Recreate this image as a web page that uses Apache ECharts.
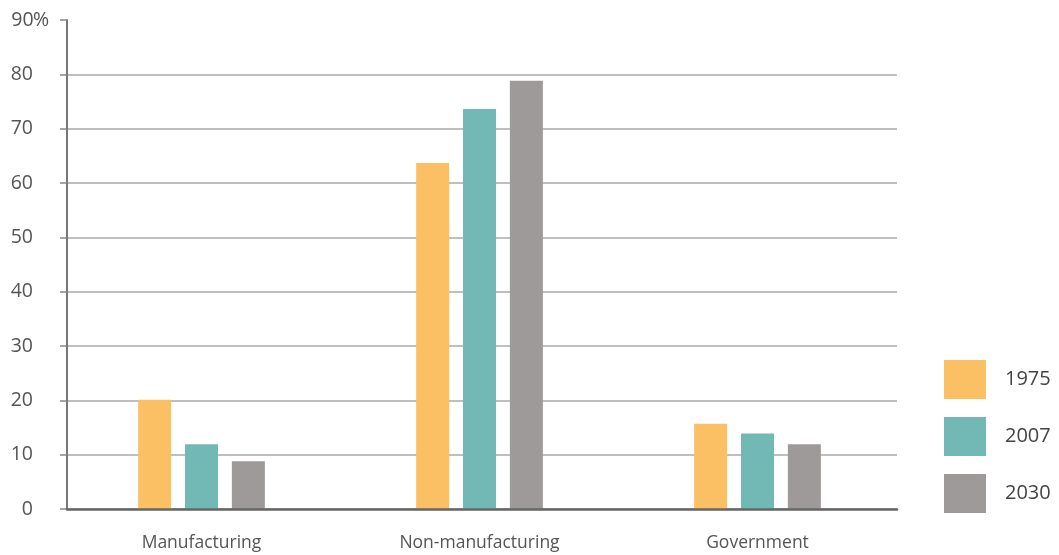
<!DOCTYPE html>
<html>
<head>
<meta charset="utf-8">
<script src="https://cdn.jsdelivr.net/npm/echarts@6/dist/echarts.min.js"></script>
<style>html,body{margin:0;padding:0;background:#fff;}#c{width:1059px;height:555px;}</style>
</head>
<body>
<div id="c"></div>
<script>
const categories = ['Manufacturing', 'Non-manufacturing', 'Government'];
const seriesNames = ['1975', '2007', '2030'];
const values1975 = [20.1, 63.7, 15.7];
const values2007 = [11.9, 73.6, 13.9];
const values2030 = [8.8, 78.8, 11.9];
const yTicks = { min: 0, max: 90, interval: 10 };
const colors = ['#FCC064', '#72B8B5', '#9E9A9A'];

const chart = echarts.init(document.getElementById('c'));
const data = [values1975, values2007, values2030];
const font = 'Open Sans, Noto Sans, sans-serif';
chart.setOption({
  animation: false,
  textStyle: { fontFamily: font },
  grid: [
    { left: 67, right: 162, top: 20, bottom: 46 },
    { left: 62.5, right: 162.5, top: 20, bottom: 46 }
  ],
  legend: {
    orient: 'vertical',
    left: 944, top: 360, padding: 0,
    itemWidth: 42, itemHeight: 39, itemGap: 18,
    icon: 'rect',
    textStyle: { fontSize: 20, color: '#444', padding: [0, 0, 0, 14] },
    data: seriesNames
  },
  xAxis: [{
    type: 'category', gridIndex: 0,
    data: categories,
    axisLine: { lineStyle: { color: '#666', width: 2.5 } },
    axisTick: { show: false },
    axisLabel: { show: false },
    z: 5
  }, {
    type: 'category', gridIndex: 1,
    data: categories,
    axisLine: { show: false },
    axisTick: { show: false },
    axisLabel: { fontSize: 17.5, color: '#555', margin: 25 }
  }],
  yAxis: [{
    type: 'value', gridIndex: 0,
    min: yTicks.min, max: yTicks.max, interval: yTicks.interval,
    axisLine: { show: true, lineStyle: { color: '#777', width: 2 } },
    axisTick: { show: true, length: 7, lineStyle: { color: '#888', width: 1.5 } },
    splitLine: { show: true, showMaxLine: false, lineStyle: { color: '#aaa', width: 1.5 } },
    axisLabel: {
      align: 'left', margin: 55,
      formatter: v => '{n|' + v + '}' + (v === 90 ? '{p|%}' : ''),
      rich: {
        n: { width: 21, align: 'right', fontSize: 19.5, color: '#555', fontFamily: font },
        p: { fontSize: 19.5, color: '#555', fontFamily: font }
      }
    }
  }, {
    type: 'value', gridIndex: 1,
    min: yTicks.min, max: yTicks.max, interval: yTicks.interval,
    show: false
  }],
  series: seriesNames.map((name, i) => ({
    name, type: 'bar', data: data[i],
    xAxisIndex: 1, yAxisIndex: 1,
    barWidth: 33, barGap: '42%',
    itemStyle: { color: colors[i] }
  }))
});
</script>
</body>
</html>
